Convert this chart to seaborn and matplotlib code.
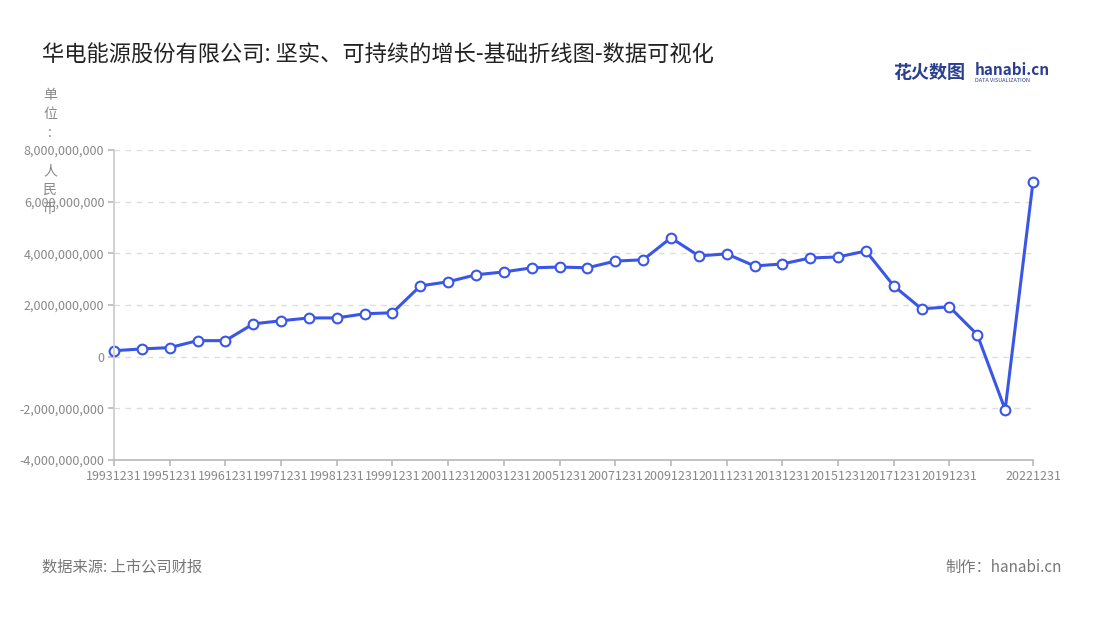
import matplotlib
matplotlib.use("Agg")
import matplotlib.pyplot as plt
import seaborn as sns
import pandas as pd

dates = ["19931231","19941231","19951231","19960630","19961231","19970630","19971231",
         "19980630","19981231","19990630","19991231"] + [f"{y}1231" for y in range(2000, 2023)]
values = [0.23,0.30,0.35,0.62,0.62,1.27,1.39,1.50,1.50,1.66,1.70,2.74,2.90,3.17,3.28,3.44,
          3.47,3.44,3.70,3.75,4.60,3.90,3.98,3.51,3.59,3.82,3.86,4.09,2.74,1.85,1.93,0.85,
          -2.05,6.76]
values = [v * 1e9 for v in values]
yticks = [-4e9, -2e9, 0, 2e9, 4e9, 6e9, 8e9]

sns.set_theme(style="white")
plt.rcParams['font.family'] = ['Noto Sans CJK SC', 'DejaVu Sans']

df = pd.DataFrame({"x": range(len(dates)), "v": values})
fig = plt.figure(figsize=(11, 6.2), dpi=100)
ax = fig.add_axes([114/1100, 1-460/620, (1033-114)/1100, 310/620])
sns.lineplot(data=df, x="x", y="v", ax=ax, color="#3a56e6", lw=2.2, marker="o",
             markersize=7, markerfacecolor="white", markeredgecolor="#3a56e6", markeredgewidth=1.5,
             clip_on=False)
ax.set_xlim(0, len(dates)-1)
ax.set_ylim(-4e9, 8e9)
ax.set_yticks(yticks)
ax.set_yticklabels([f"{int(t):,}" for t in yticks], fontsize=9, color="#888888")
tick_idx = list(range(0, 31, 2)) + [33]
ax.set_xticks(tick_idx)
ax.set_xticklabels([dates[i] for i in tick_idx], fontsize=9, color="#888888")
ax.tick_params(axis="both", length=4, color="#bbbbbb", pad=3, left=True, bottom=True)
ax.set_xlabel(""); ax.set_ylabel("")
for s in ["top", "right"]:
    ax.spines[s].set_visible(False)
ax.spines["left"].set_color("#cccccc")
ax.spines["bottom"].set_color("#bbbbbb")
ax.grid(axis="y", ls=(0, (4, 4)), color="#dddddd", lw=1)
ax.set_axisbelow(True)

fig.text(42/1100, 1-55/620, "华电能源股份有限公司: 坚实、可持续的增长-基础折线图-数据可视化",
         fontsize=16, color="#222222", va="center")
fig.text(50/1100, 1-152/620, "单\n位\n:\n \n人\n民\n币", fontsize=10, color="#888888",
         ha="center", va="center", linespacing=1.45)
fig.text(893/1100, 1-73/620, "花火数图", fontsize=13, color="#2a3f8f", weight="bold", va="center")
fig.text(975/1100, 1-70/620, "hanabi.cn", fontsize=11, color="#2a3f8f", weight="bold", va="center")
fig.text(975/1100, 1-80/620, "DATA VISUALIZATION", fontsize=4, color="#2a3f8f", va="center")
fig.text(42/1100, 1-567/620, "数据来源: 上市公司财报", fontsize=11, color="#777777", va="center")
fig.text(1062/1100, 1-567/620, "制作：hanabi.cn", fontsize=11, color="#777777", va="center", ha="right")
fig.savefig("out.png", dpi=100)
